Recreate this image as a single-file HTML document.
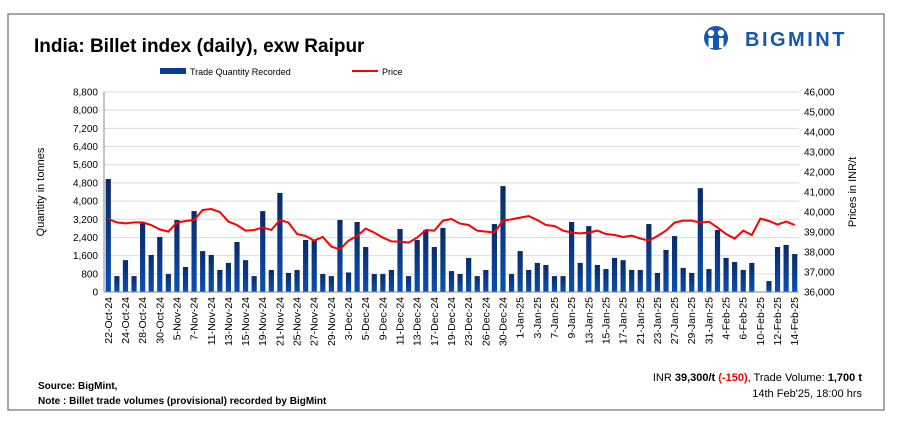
<!DOCTYPE html>
<html><head><meta charset="utf-8"><style>
body{margin:0;background:#fff;width:907px;height:438px;overflow:hidden;font-family:"Liberation Sans",sans-serif}
svg{position:absolute;left:0;top:0}
</style></head><body>
<svg id="c" width="907" height="438">
<defs><linearGradient id="bg" x1="0" y1="0" x2="0" y2="1"><stop offset="0" stop-color="#0a2a66"/><stop offset="1" stop-color="#0a4fb5"/></linearGradient></defs>
<rect x="8" y="14" width="876" height="396" fill="#fff" stroke="#8a8a8a" stroke-width="1.5"/>
<text x="34" y="52" font-size="19" font-weight="bold" fill="#000">India: Billet index (daily), exw Raipur</text>
<g>
<circle cx="716" cy="38" r="12" fill="#1557b0"/>
<circle cx="711" cy="33" r="3.2" fill="#fff"/><circle cx="721" cy="33" r="3.2" fill="#fff"/>
<rect x="708.5" y="38" width="4.5" height="10" fill="#fff"/><rect x="719" y="38" width="4.5" height="10" fill="#fff"/>
<text x="745" y="46" font-size="20" font-weight="bold" fill="#1557b0" letter-spacing="2.5">BIGMINT</text>
</g>
<g>
<rect x="160" y="68" width="26" height="6" fill="#0a3a8a"/>
<text x="190" y="75" font-size="9">Trade Quantity Recorded</text>
<line x1="352" y1="71" x2="378" y2="71" stroke="#f00" stroke-width="2"/>
<text x="382" y="75" font-size="9">Price</text>
</g>
<g id="grid"></g><g id="bars"></g><g id="axes"></g><g id="line"></g>
<text transform="translate(44,192) rotate(-90)" text-anchor="middle" font-size="11">Quantity in tonnes</text>
<text transform="translate(856,192) rotate(-90)" text-anchor="middle" font-size="11">Prices in INR/t</text>
<text x="38" y="389" font-size="10" font-weight="bold">Source: BigMint,</text>
<text x="38" y="404" font-size="10" font-weight="bold">Note : Billet trade volumes (provisional) recorded by BigMint</text>
<text x="862" y="381" text-anchor="end" font-size="11">INR <tspan font-weight="bold">39,300/t</tspan> <tspan font-weight="bold" fill="#e00">(-150)</tspan>, Trade Volume: <tspan font-weight="bold">1,700 t</tspan></text>
<text x="862" y="397" text-anchor="end" font-size="11">14th Feb'25, 18:00 hrs</text>
</svg>
<script>
const qty=[4970,700,1400,700,3020,1630,2420,790,3170,1100,3560,1800,1630,970,1280,2200,1400,700,3560,970,4360,840,970,2290,2290,790,700,3170,
860,3080,1980,790,790,970,2770,700,2290,2730,1980,2820,920,790,1500,700,970,2990,4660,790,1800,970,1280,1190,700,700,
3080,1280,2900,1190,1010,1500,1400,970,970,2990,840,1850,2460,1060,840,4570,1010,2730,1500,1320,970,1280,0,480,1980,2070,1670];
const price=[39650,39480,39430,39480,39480,39350,39130,39020,39470,39550,39600,40100,40150,40000,39520,39350,39070,39100,39230,39100,39600,39470,38900,38800,38570,38750,38270,38130,
38570,38800,39170,38970,38720,38530,38520,38470,38720,39100,39070,39570,39650,39420,39350,39070,39020,38980,39570,39630,39720,39800,39600,39350,39300,39070,
38970,38930,38970,39070,38900,38850,38750,38820,38670,38570,38800,39070,39470,39570,39570,39470,39520,39220,38900,38670,39070,38850,39670,39550,39370,39520,39350];
const dateLabels=["22-Oct-24","24-Oct-24","28-Oct-24","30-Oct-24","5-Nov-24","7-Nov-24","11-Nov-24","13-Nov-24","15-Nov-24","19-Nov-24","21-Nov-24","25-Nov-24","27-Nov-24","29-Nov-24","3-Dec-24","5-Dec-24","9-Dec-24","11-Dec-24","13-Dec-24","17-Dec-24","19-Dec-24","23-Dec-24","26-Dec-24","30-Dec-24","1-Jan-25","3-Jan-25","7-Jan-25","9-Jan-25","13-Jan-25","15-Jan-25","17-Jan-25","21-Jan-25","23-Jan-25","27-Jan-25","29-Jan-25","31-Jan-25","4-Feb-25","6-Feb-25","10-Feb-25","12-Feb-25","14-Feb-25"];
const leftTicks=[0,800,1600,2400,3200,4000,4800,5600,6400,7200,8000,8800];
const rightTicks=[36000,37000,38000,39000,40000,41000,42000,43000,44000,45000,46000];
const NS="http://www.w3.org/2000/svg";
const X0=104,X1=799,YB=292,YT=92,n=qty.length,step=(X1-X0)/n;
const xc=i=>X0+step*(i+0.5);
const yl=v=>YB-(v/8800)*(YB-YT);
const yr=v=>YB-((v-36000)/10000)*(YB-YT);
function mk(tag,attrs,parent,txt){const e=document.createElementNS(NS,tag);for(const k in attrs)e.setAttribute(k,attrs[k]);if(txt!==undefined)e.textContent=txt;document.getElementById(parent).appendChild(e);return e;}
leftTicks.forEach(t=>{const g=mk('line',{x1:X0,x2:X1,y1:yl(t),y2:yl(t),stroke:'#dcdcdc','stroke-width':1},'grid');


const l=mk('text',{x:X0-6,y:yl(t)+3.5,'text-anchor':'end','font-size':10},'axes',t.toLocaleString('en-US'));

});
rightTicks.forEach(t=>{const l=mk('text',{x:X1+5,y:yr(t)+3.5,'font-size':10},'axes',t.toLocaleString('en-US'));

});
qty.forEach((v,i)=>{const b=mk('rect',{x:xc(i)-2.6,width:5.2,y:yl(v),height:YB-yl(v),fill:'url(#bg)'},'bars');

});
const ax=mk('line',{x1:X0,x2:X1,y1:YB,y2:YB,stroke:'#888'},'axes');


const ay=mk('line',{x1:X0,x2:X0,y1:YT,y2:YB,stroke:'#888'},'axes');


dateLabels.forEach((d,k)=>{const x=xc(k*2)+3.5;const t=mk('text',{transform:`translate(${x},${YB+5}) rotate(-90)`,'text-anchor':'end','font-size':10.5},'axes',d);

});
const pl=mk('polyline',{points:price.map((p,i)=>xc(i)+','+yr(p)).join(' '),fill:'none',stroke:'#f00','stroke-width':2},'line');


</script>
</body></html>
